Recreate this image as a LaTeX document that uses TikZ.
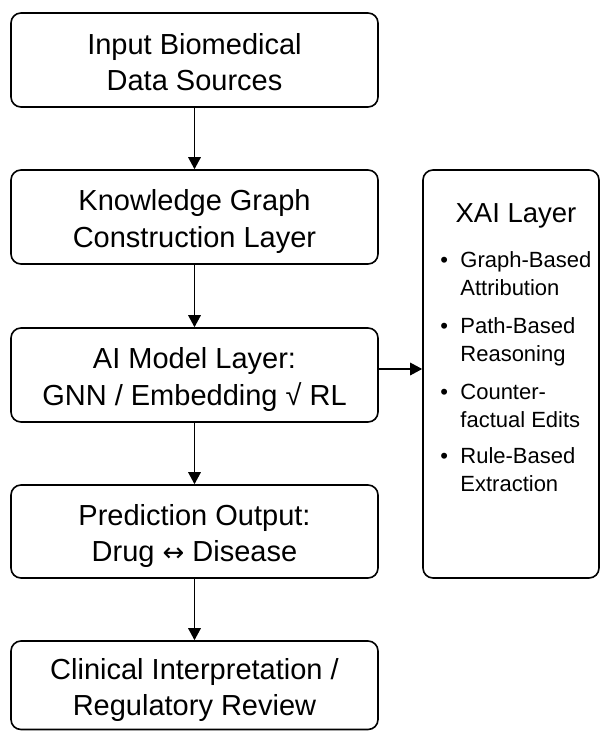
\documentclass[tikz,border=0pt]{standalone}
\usepackage{fontspec}
\setmainfont{Liberation Sans}
\newfontfamily\symfnt{DejaVu Sans}
\usetikzlibrary{arrows.meta}
\begin{document}
\begin{tikzpicture}[x=1pt,y=1pt,
  box/.style={draw=black, line width=1.6pt, rounded corners=10pt, minimum width=367pt,
    inner sep=0pt, align=center, font=\fontsize{29}{36.4}\selectfont},
  arr/.style={line width=1.5pt, -{Triangle[length=12pt,width=12.5pt]}},
  xaibox/.style={draw=black, line width=1.6pt, rounded corners=10pt, minimum width=176pt,
    minimum height=408pt, inner sep=0pt},
]
\useasboundingbox (0,0) rectangle (600,-731);
\newcommand{\topfix}{\rule{0pt}{30.4pt}}
\newcommand{\botfix}{\rule[-6pt]{0pt}{6pt}}

\node[box, minimum height=94pt] (b1) at (194.5,-60) {\topfix Input Biomedical\\Data Sources\botfix};
\node[box, minimum height=94pt] (b2) at (194.5,-217) {\topfix Knowledge Graph\\Construction Layer\botfix};
\node[box, minimum height=94pt] (b3) at (194.5,-375) {\topfix AI Model Layer:\\GNN / Embedding √ RL\botfix};
\node[box, minimum height=93pt] (b4) at (194.5,-531.5) {\topfix Prediction Output:\\Drug {\symfnt\fontsize{26}{36.4}\selectfont ↔} Disease\botfix};
\node[box, minimum height=88.5pt] (b5) at (194.5,-685.25) {\topfix Clinical Interpretation /\\Regulatory Review\botfix};

\node[xaibox] (xai) at (511,-374) {};
\node[anchor=base, inner sep=0pt, font=\fontsize{27.5}{33}\selectfont] (xaititle) at (516,-222) {XAI Layer};
\node[anchor=base west, inner sep=0pt, font=\fontsize{22}{28}\selectfont] (xailist) at (440.2,-267)
  {\begin{tabular}[t]{@{}l@{\hspace{12.3pt}}l@{}}
   •&Graph-Based\\ &Attribution\\[10pt]
   •&Path-Based\\ &Reasoning\\[10pt]
   •&Counter-\\ &factual Edits\\[8pt]
   •&Rule-Based\\ &Extraction
   \end{tabular}};

\draw[arr] (b1) -- (b2);
\draw[arr] (b2) -- (b3);
\draw[arr] (b3) -- (b4);
\draw[arr] (b4) -- (b5);
\draw[arr] ([yshift=6pt]b3.east) -- ([yshift=6pt]b3.east -| xai.west);
\end{tikzpicture}
\end{document}
